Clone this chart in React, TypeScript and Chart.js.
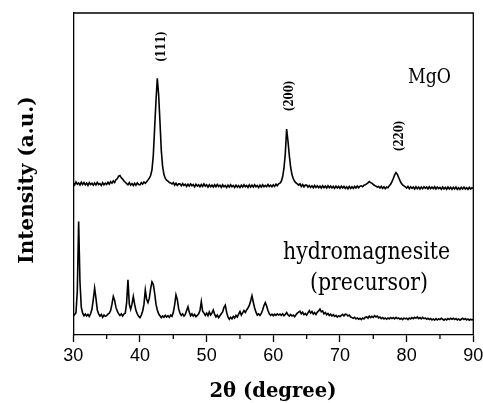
import { useEffect, useRef } from "react";
import { Chart, registerables } from "chart.js";

Chart.register(...registerables);

// 2θ grid: 30° to 90°, 0.2° step
const X_START = 30;
const X_STEP = 0.2;

// MgO intensity (arbitrary units, offset trace)
const mgoIntensity = [
  46.9, 46.3, 47.2, 46.5, 46.9,
  46.2, 47.1, 46.4, 47.0, 46.3,
  46.9, 46.1, 47.0, 46.4, 46.8,
  46.2, 46.9, 46.3, 47.1, 46.4,
  46.7, 46.1, 47.0, 46.3, 46.8,
  46.4, 47.1, 46.5, 47.3, 46.8,
  47.5, 47.0, 47.9, 48.2, 49.0,
  49.2, 48.5, 48.1, 47.5, 47.1,
  46.7, 46.3, 47.0, 46.2, 46.7,
  46.1, 46.8, 46.2, 46.9, 46.4,
  46.3, 47.0, 46.5, 47.2, 46.8,
  47.3, 47.8, 48.4, 49.2, 51.0,
  55.5, 64.0, 72.5, 79.6, 74.5,
  66.0, 57.0, 52.0, 49.5, 48.3,
  47.8, 47.5, 47.0, 46.9, 46.6,
  47.0, 46.2, 46.8, 46.1, 46.6,
  46.6, 46.0, 46.7, 46.1, 46.5,
  45.8, 46.5, 45.9, 46.6, 46.0,
  46.4, 45.7, 46.5, 45.9, 46.3,
  45.7, 46.4, 45.8, 46.6, 45.9,
  46.3, 45.6, 46.3, 45.7, 46.2,
  45.6, 46.3, 45.7, 46.4, 45.8,
  46.2, 45.5, 46.3, 45.7, 46.1,
  45.5, 46.2, 45.6, 46.3, 45.7,
  46.1, 45.5, 46.2, 45.6, 46.1,
  45.5, 46.2, 45.6, 46.3, 45.7,
  46.1, 45.5, 46.3, 45.6, 46.2,
  45.6, 46.3, 45.7, 46.1, 45.5,
  46.2, 45.6, 46.3, 45.7, 46.1,
  45.7, 46.4, 45.8, 46.2, 45.7,
  46.3, 45.8, 46.5, 46.0, 46.6,
  46.8, 47.4, 48.8, 51.5, 56.0,
  63.7, 60.0, 55.5, 51.8, 49.5,
  48.2, 47.4, 46.9, 46.6, 46.2,
  46.6, 45.8, 46.4, 45.7, 46.2,
  46.2, 45.6, 46.1, 45.5, 46.0,
  45.4, 46.1, 45.5, 46.0, 45.4,
  45.9, 45.3, 46.0, 45.4, 45.9,
  45.3, 46.0, 45.4, 45.9, 45.3,
  45.8, 45.2, 45.9, 45.3, 45.8,
  45.2, 45.9, 45.3, 45.8, 45.2,
  45.7, 45.1, 45.8, 45.2, 45.7,
  45.2, 45.8, 45.3, 45.9, 45.4,
  45.9, 46.0, 45.7, 46.2, 46.3,
  46.6, 46.9, 47.3, 47.0, 46.8,
  46.4, 46.1, 45.9, 45.6, 45.8,
  45.3, 45.8, 45.2, 45.7, 45.1,
  45.6, 45.4, 46.0, 46.5, 47.3,
  48.3, 49.4, 50.1, 49.6, 48.6,
  47.6, 46.8, 46.3, 46.0, 45.7,
  45.3, 45.8, 45.1, 45.7, 45.2,
  45.6, 45.0, 45.7, 45.1, 45.6,
  45.0, 45.6, 45.1, 45.7, 45.2,
  45.6, 45.0, 45.7, 45.1, 45.6,
  45.1, 45.7, 45.0, 45.6, 45.1,
  45.5, 44.9, 45.6, 45.0, 45.5,
  44.9, 45.6, 45.0, 45.5, 44.9,
  45.5, 45.0, 45.6, 44.9, 45.4,
  44.9, 45.5, 45.0, 45.6, 45.0,
  45.4, 44.9, 45.5, 45.0, 45.4,
  45.2,
];

// hydromagnesite (precursor) intensity
const precursorIntensity = [
  5.3, 5.8, 6.3, 13.0, 34.8,
  16.0, 8.0, 6.2, 5.4, 5.9,
  5.3, 5.8, 5.2, 6.0, 7.5,
  10.5, 14.0, 10.8, 7.2, 6.0,
  5.3, 5.8, 4.9, 5.6, 5.2,
  5.4, 5.9, 6.2, 7.0, 9.0,
  11.4, 10.2, 8.0, 6.8, 6.0,
  5.5, 6.0, 5.3, 5.9, 6.2,
  9.5, 16.6, 9.0, 7.4, 9.0,
  11.4, 9.0, 7.0, 6.0, 5.2,
  4.8, 5.6, 6.8, 9.0, 13.4,
  10.5, 9.5, 10.8, 13.8, 16.0,
  15.2, 12.5, 9.0, 7.2, 6.0,
  5.4, 4.8, 5.3, 4.9, 5.5,
  5.0, 5.4, 4.9, 5.6, 5.2,
  6.4, 8.8, 11.9, 10.5, 7.6,
  6.2, 5.5, 6.0, 5.3, 5.8,
  7.0, 8.2, 6.5, 5.4, 6.0,
  5.3, 5.8, 5.1, 5.5, 6.0,
  7.0, 9.8, 6.8, 6.2, 5.5,
  6.2, 5.4, 6.6, 5.6, 6.3,
  7.2, 5.8, 5.0, 5.6, 4.8,
  5.4, 6.0, 6.6, 8.0, 8.7,
  6.5, 5.0, 4.3, 4.9, 4.4,
  5.2, 4.7, 5.5, 5.0, 5.9,
  6.7, 5.6, 6.3, 7.0, 6.4,
  7.2, 7.8, 8.6, 10.0, 11.6,
  9.6, 7.8, 6.5, 5.6, 6.0,
  5.5, 6.1, 7.2, 8.6, 9.5,
  8.4, 7.0, 6.0, 5.5, 5.9,
  5.4, 5.9, 5.5, 6.0, 5.6,
  5.9, 5.5, 6.0, 5.4, 5.8,
  6.4, 5.7, 5.3, 5.8, 5.3,
  5.6, 5.1, 5.7, 6.2, 6.5,
  6.8, 6.0, 6.5, 5.7, 6.1,
  5.6, 6.3, 7.0, 6.2, 6.7,
  5.9, 6.4, 5.8, 6.5, 6.9,
  7.5, 6.6, 6.9, 6.0, 6.4,
  5.7, 6.1, 5.5, 5.9, 5.3,
  5.7, 5.2, 5.5, 5.0, 5.4,
  5.1, 5.5, 5.8, 5.3, 5.9,
  5.8, 5.3, 5.6, 5.0, 4.8,
  4.6, 4.9, 4.4, 4.7, 4.3,
  4.6, 4.2, 4.7, 4.4, 4.9,
  5.0, 4.6, 5.3, 4.8, 5.2,
  4.9, 5.4, 5.0, 5.3, 4.7,
  5.0, 4.5, 4.8, 4.4, 4.7,
  4.3, 4.7, 4.4, 4.8, 4.5,
  4.8, 4.4, 4.9, 4.5, 4.7,
  4.3, 4.6, 4.2, 4.7, 4.4,
  4.6, 4.2, 4.7, 4.4, 4.8,
  4.5, 4.9, 4.6, 5.0, 4.5,
  4.8, 4.4, 4.9, 4.5, 4.7,
  4.3, 4.6, 4.2, 4.5, 4.1,
  4.4, 4.0, 4.5, 4.1, 4.4,
  4.2, 4.6, 4.3, 4.0, 4.4,
  4.1, 4.5, 4.2, 4.6, 4.3,
  4.6, 4.2, 4.5, 4.1, 4.4,
  4.0, 4.3, 4.6, 4.2, 4.5,
  4.1, 4.4, 4.0, 4.3, 4.1,
  4.2,
];

const minorTicks = [35, 45, 55, 65, 75, 85];

// Miller index labels: text, 2θ of label centre, intensity of label centre
const peakLabels = ["(111)", "(200)", "(220)"];
const peakLabelX = [43.3, 62.5, 79.0];
const peakLabelY = [89.5, 74.1, 61.6];

const toPoints = (arr: number[]) =>
  arr.map((y, i) => ({ x: +(X_START + i * X_STEP).toFixed(1), y }));

const SERIF = "'DejaVu Serif', serif";

export default function App() {
  const ref = useRef<HTMLCanvasElement | null>(null);

  useEffect(() => {
    if (!ref.current) return;

    const framePlugin = {
      id: "frame",
      afterDraw(chart: any) {
        const { ctx, chartArea } = chart;
        const { left, right, top, bottom } = chartArea;
        const xs = chart.scales.x;
        const ys = chart.scales.y;
        ctx.save();
        ctx.strokeStyle = "#000";
        ctx.lineWidth = 1.3;
        ctx.beginPath();
        ctx.moveTo(left, top);
        ctx.lineTo(right, top);
        ctx.lineTo(right, bottom);
        ctx.stroke();
        ctx.beginPath();
        for (const v of minorTicks) {
          const px = xs.getPixelForValue(v);
          ctx.moveTo(px, bottom);
          ctx.lineTo(px, bottom + 4);
        }
        ctx.stroke();

        ctx.fillStyle = "#000";
        // peak labels (rotated)
        ctx.font = `bold 12px ${SERIF}`;
        ctx.textAlign = "center";
        ctx.textBaseline = "middle";
        peakLabels.forEach((t, i) => {
          ctx.save();
          ctx.translate(xs.getPixelForValue(peakLabelX[i]), ys.getPixelForValue(peakLabelY[i]));
          ctx.rotate(-Math.PI / 2);
          ctx.fillText(t, 0, 0, 31);
          ctx.restore();
        });

        // sample labels
        ctx.textAlign = "left";
        ctx.textBaseline = "alphabetic";
        ctx.font = `21px ${SERIF}`;
        ctx.fillText("MgO", 408, 82.5, 43);
        ctx.font = `25px ${SERIF}`;
        ctx.fillText("hydromagnesite", 283, 258.5, 167);
        ctx.fillText("(precursor)", 310, 289.5, 118);

        // axis titles
        ctx.font = `bold 20px ${SERIF}`;
        ctx.textAlign = "center";
        ctx.fillText("2θ (degree)", 273, 396.5, 127);
        ctx.save();
        ctx.translate(28, 180);
        ctx.rotate(-Math.PI / 2);
        ctx.textBaseline = "middle";
        ctx.fillText("Intensity (a.u.)", 0, 0, 173);
        ctx.restore();
        ctx.restore();
      },
    };

    const chart = new Chart(ref.current, {
      type: "line",
      data: {
        datasets: [
          {
            label: "MgO",
            data: toPoints(mgoIntensity),
            borderColor: "#000",
            borderWidth: 1.6,
            pointRadius: 0,
            tension: 0,
          },
          {
            label: "hydromagnesite (precursor)",
            data: toPoints(precursorIntensity),
            borderColor: "#000",
            borderWidth: 1.6,
            pointRadius: 0,
            tension: 0,
          },
        ],
      },
      options: {
        animation: false,
        responsive: false,
        devicePixelRatio: 1,
        layout: { padding: { top: 13, right: 9.7, left: 0, bottom: 0 } },
        plugins: { legend: { display: false }, tooltip: { enabled: false } },
        scales: {
          x: {
            type: "linear",
            min: 30,
            max: 90,
            ticks: {
              stepSize: 10,
              autoSkip: false,
              maxRotation: 0,
              padding: 3,
              color: "#000",
              font: { family: "'Liberation Sans', Arial, sans-serif", size: 18 },
            },
            grid: {
              display: true,
              drawOnChartArea: false,
              drawTicks: true,
              tickLength: 7,
              tickWidth: 1.3,
              tickColor: "#000",
            },
            border: { display: true, color: "#000", width: 1.3 },
            afterFit: (s: any) => {
              s.height = 68;
              s.paddingRight = 0;
              s.paddingLeft = 0;
            },
          },
          y: {
            min: -0.625,
            max: 100,
            ticks: { display: false },
            grid: { display: false },
            border: { display: true, color: "#000", width: 1.3 },
            afterFit: (s: any) => {
              s.width = 73.3;
            },
          },
        },
      },
      plugins: [framePlugin],
    });

    return () => chart.destroy();
  }, []);

  return (
    <div style={{ position: "fixed", left: 0, top: 0, width: 483, height: 403, background: "#fff" }}>
      <canvas ref={ref} width={483} height={403} />
    </div>
  );
}
